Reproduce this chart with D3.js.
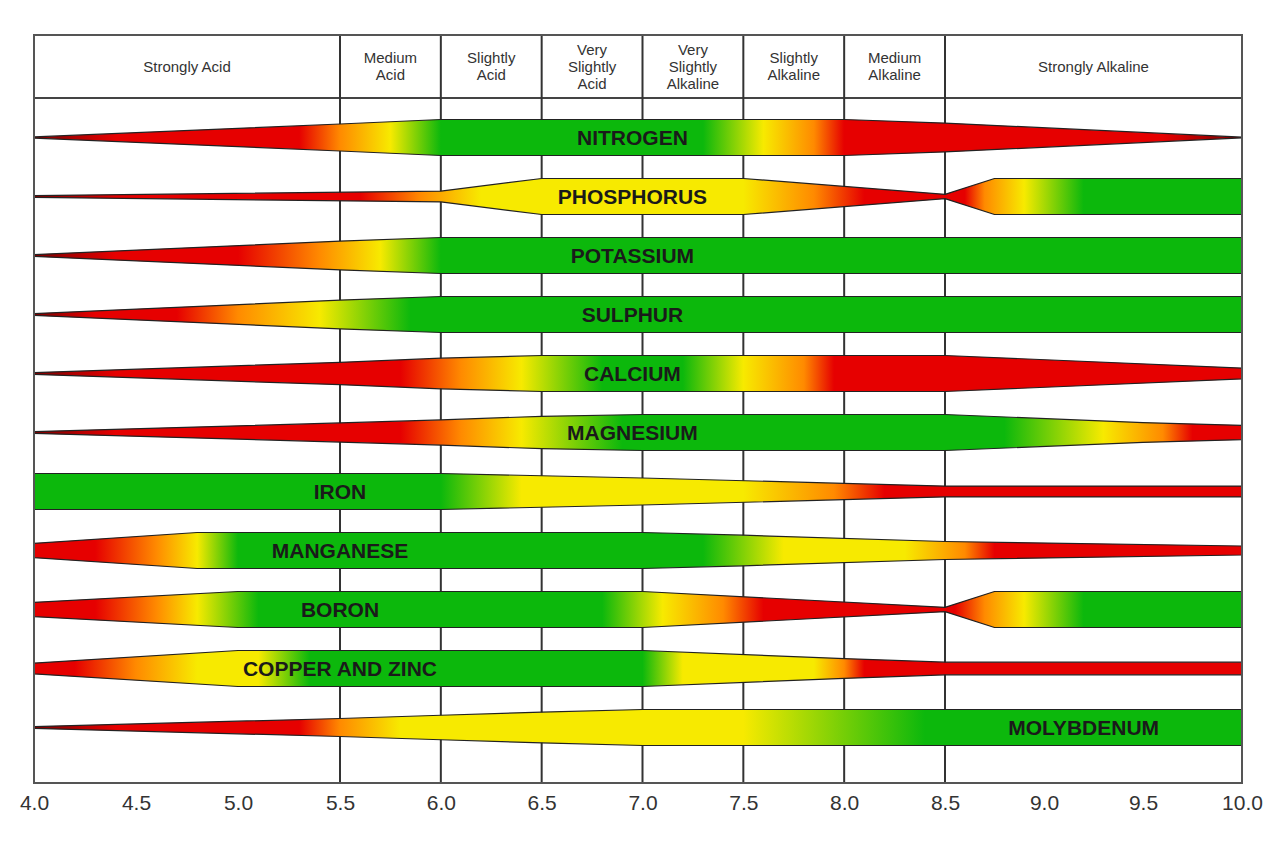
<!DOCTYPE html>
<html><head><meta charset="utf-8">
<script src="https://cdn.jsdelivr.net/npm/d3@7/dist/d3.min.js"></script>
<style>body{margin:0;background:#fff}svg{display:block}</style>
</head><body><svg id="c" width="1280" height="854"></svg>
<script>
const zones = [
  {from:4.0,to:5.5,label:["Strongly Acid"]},
  {from:5.5,to:6.0,label:["Medium","Acid"]},
  {from:6.0,to:6.5,label:["Slightly","Acid"]},
  {from:6.5,to:7.0,label:["Very","Slightly","Acid"]},
  {from:7.0,to:7.5,label:["Very","Slightly","Alkaline"]},
  {from:7.5,to:8.0,label:["Slightly","Alkaline"]},
  {from:8.0,to:8.5,label:["Medium","Alkaline"]},
  {from:8.5,to:10.0,label:["Strongly Alkaline"]}
];
const ticks = [4.0,4.5,5.0,5.5,6.0,6.5,7.0,7.5,8.0,8.5,9.0,9.5,10.0];
const nutrients = ["NITROGEN","PHOSPHORUS","POTASSIUM","SULPHUR","CALCIUM","MAGNESIUM","IRON","MANGANESE","BORON","COPPER AND ZINC","MOLYBDENUM"];
const labelPH = [6.95,6.95,6.95,6.95,6.95,6.95,5.5,5.5,5.5,5.5,9.2];
// relative band thickness at pH points
const widths = [
  [[4,0.03],[5.5,0.75],[6,1],[8,1],[8.5,0.8],[10,0.02]],
  [[4,0.05],[6,0.3],[6.5,1],[7.5,1],[8.5,0.12],[8.75,1],[10,1]],
  [[4,0.05],[5.5,0.8],[6,1],[10,1]],
  [[4,0.05],[5.5,0.8],[6,1],[10,1]],
  [[4,0.05],[5.5,0.62],[6,0.85],[6.5,1],[8.5,1],[10,0.3]],
  [[4,0.05],[5.5,0.53],[6,0.7],[6.5,0.9],[7,1],[8.5,1],[9.5,0.55],[10,0.4]],
  [[4,1],[6,1],[7,0.75],[8,0.45],[8.5,0.3],[10,0.3]],
  [[4,0.4],[4.8,1],[7,1],[7.5,0.85],[8.5,0.5],[10,0.25]],
  [[4,0.4],[5,1],[7,1],[8.5,0.12],[8.75,1],[10,1]],
  [[4,0.3],[5,1],[7,1],[8,0.55],[8.5,0.35],[10,0.35]],
  [[4,0.05],[5.5,0.5],[6,0.68],[6.5,0.85],[7,1],[10,1]]
];
// colour stops along pH: D dark red, R red, O orange, Y yellow, G green
const colours = [
  [[4,"D"],[4.4,"R"],[5.3,"R"],[5.5,"O"],[5.75,"Y"],[6.0,"G"],[7.3,"G"],[7.6,"Y"],[7.85,"O"],[8.0,"R"],[9.6,"R"],[10,"D"]],
  [[4,"D"],[4.4,"R"],[5.6,"R"],[5.9,"O"],[6.2,"Y"],[7.5,"Y"],[7.85,"O"],[8.1,"R"],[8.6,"R"],[8.7,"O"],[8.9,"Y"],[9.2,"G"],[10,"G"]],
  [[4,"D"],[4.4,"R"],[5.0,"R"],[5.4,"O"],[5.7,"Y"],[6.0,"G"],[10,"G"]],
  [[4,"D"],[4.3,"R"],[4.7,"R"],[5.0,"O"],[5.4,"Y"],[5.85,"G"],[10,"G"]],
  [[4,"D"],[4.4,"R"],[5.8,"R"],[6.1,"O"],[6.4,"Y"],[6.8,"G"],[7.2,"G"],[7.5,"Y"],[7.8,"O"],[7.95,"R"],[10,"R"]],
  [[4,"D"],[4.4,"R"],[5.8,"R"],[6.1,"O"],[6.4,"Y"],[6.9,"G"],[8.8,"G"],[9.3,"Y"],[9.6,"O"],[9.75,"R"],[10,"R"]],
  [[4,"G"],[6.0,"G"],[6.4,"Y"],[7.5,"Y"],[7.95,"O"],[8.2,"R"],[10,"R"]],
  [[4,"R"],[4.3,"R"],[4.6,"O"],[4.8,"Y"],[5.0,"G"],[7.3,"G"],[7.7,"Y"],[8.3,"Y"],[8.6,"O"],[8.75,"R"],[10,"R"]],
  [[4,"R"],[4.3,"R"],[4.6,"O"],[4.8,"Y"],[5.1,"G"],[6.8,"G"],[7.1,"Y"],[7.4,"O"],[7.6,"R"],[8.55,"R"],[8.7,"O"],[8.9,"Y"],[9.2,"G"],[10,"G"]],
  [[4,"R"],[4.2,"R"],[4.5,"O"],[4.8,"Y"],[5.1,"Y"],[5.35,"G"],[7.0,"G"],[7.2,"Y"],[7.85,"Y"],[8.0,"O"],[8.1,"R"],[10,"R"]],
  [[4,"D"],[4.4,"R"],[5.3,"R"],[5.5,"O"],[5.8,"Y"],[7.5,"Y"],[8.4,"G"],[10,"G"]]
];
const palette = {D:"#7a0000",R:"#e60000",O:"#ff8a00",Y:"#f7ea00",G:"#0cb80c"};

const svg = d3.select("#c");
const x = d3.scaleLinear().domain([4,5.5,8.5,10]).range([34,340,945,1242]);
const topY = 35, headB = 98, bottomY = 783;
const y = d3.scaleBand().domain(nutrients).range([108,757]).padding(0);
const half = 18;

svg.append("line").attr("x1",x(4)).attr("x2",x(10)).attr("y1",headB).attr("y2",headB).attr("stroke","#444").attr("stroke-width",2);
zones.slice(1).forEach(z=>{
  svg.append("line").attr("x1",x(z.from)).attr("x2",x(z.from)).attr("y1",topY).attr("y2",bottomY).attr("stroke","#333").attr("stroke-width",2);
});
zones.forEach(z=>{
  const cx=(x(z.from)+x(z.to))/2, n=z.label.length, lh=17;
  const t=svg.append("text").attr("text-anchor","middle").attr("font-family","Liberation Sans, Arial, sans-serif").attr("font-size",15).attr("fill","#333");
  z.label.forEach((l,i)=>t.append("tspan").attr("x",cx).attr("y",(topY+headB)/2+5+(i-(n-1)/2)*lh).text(l));
});

const defs = svg.append("defs");
nutrients.forEach((name,i)=>{
  const cy = y(name)+y.bandwidth()/2;
  const g = defs.append("linearGradient").attr("id","g"+i).attr("gradientUnits","userSpaceOnUse")
    .attr("x1",x(4)).attr("x2",x(10)).attr("y1",0).attr("y2",0);
  colours[i].forEach(s=>g.append("stop").attr("offset",(x(s[0])-x(4))/(x(10)-x(4))).attr("stop-color",palette[s[1]]));
  const area = d3.area().x(d=>x(d[0])).y0(d=>cy-d[1]*half).y1(d=>cy+d[1]*half);
  svg.append("path").attr("d",area(widths[i])).attr("fill","url(#g"+i+")").attr("stroke","#222").attr("stroke-width",1.2).attr("stroke-linejoin","round");
  svg.append("text").attr("x",x(labelPH[i])).attr("y",cy+7).attr("text-anchor","middle")
    .attr("font-family","Liberation Sans, Arial, sans-serif").attr("font-weight","bold").attr("font-size",21).attr("fill","#1a1a1a").text(name);
});

svg.append("rect").attr("x",x(4)).attr("y",topY).attr("width",x(10)-x(4)).attr("height",bottomY-topY).attr("fill","none").attr("stroke","#555").attr("stroke-width",2);

const ax = svg.append("g").attr("transform",`translate(0,${bottomY})`).call(d3.axisBottom(x).tickValues(ticks).tickFormat(d3.format(".1f")).tickSize(0).tickPadding(12));
ax.select(".domain").remove();
ax.selectAll("text").attr("font-family","Liberation Sans, Arial, sans-serif").attr("font-size",21).attr("fill","#333");
</script></body></html>
